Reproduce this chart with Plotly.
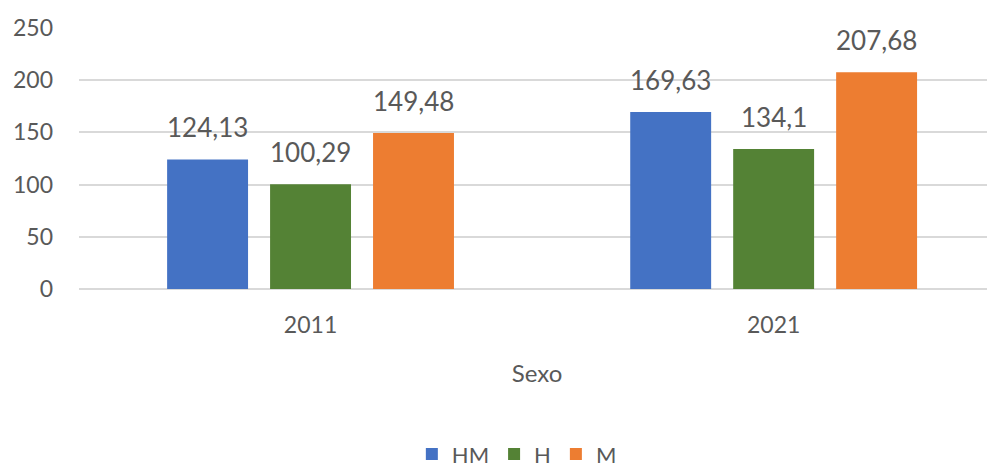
import plotly.graph_objects as go

categories = ["2011", "2021"]
series_names = ["HM", "H", "M"]
hm_values = [124.13, 169.63]
h_values = [100.29, 134.1]
m_values = [149.48, 207.68]
value_labels = [["124,13", "169,63"], ["100,29", "134,1"], ["149,48", "207,68"]]
colors = ["#4472C4", "#548235", "#ED7D31"]
y_ticks = [0, 50, 100, 150, 200, 250]

FONT = "Lato, Open Sans, sans-serif"
TXT = "#595959"

fig = go.Figure()
all_values = [hm_values, h_values, m_values]
for name, vals, col in zip(series_names, all_values, colors):
    fig.add_trace(go.Bar(x=[0, 1], y=vals, name=name, marker_color=col,
                         marker_line_width=0))

bargap = 0.333
bargroupgap = 0.214
slot = (1 - bargap) / 3
for si, vals in enumerate(all_values):
    for ci, v in enumerate(vals):
        fig.add_annotation(x=ci + (si - 1) * slot, y=v, xref="x", yref="y",
                           text=value_labels[si][ci], showarrow=False,
                           yanchor="bottom", yshift=14,
                           font=dict(family=FONT, size=26, color=TXT))

# page body has an 8px default margin; figure is sized to fit the 995x468 window
fig.update_layout(
    width=987, height=460,
    margin=dict(l=71, r=0, t=20, b=179, autoexpand=False),
    paper_bgcolor="white", plot_bgcolor="white",
    barmode="group", bargap=bargap, bargroupgap=bargroupgap,
    font=dict(family=FONT, size=23, color=TXT),
    showlegend=True,
    legend=dict(orientation="h", x=0.478, xanchor="center",
                yref="container", y=0.03, yanchor="middle",
                font=dict(family=FONT, size=22, color=TXT),
                itemwidth=30, traceorder="normal"),
    xaxis=dict(tickmode="array", tickvals=[0, 1], ticktext=categories,
               range=[-0.5, 1.478], showgrid=False, zeroline=False,
               showline=False, ticks="", ticklabelstandoff=20, automargin=False,
               title=dict(text="Sexo", standoff=28,
                          font=dict(family=FONT, size=24, color=TXT)),
               tickfont=dict(family=FONT, size=23, color=TXT)),
    yaxis=dict(range=[0, 250], tickvals=y_ticks, showgrid=True,
               gridcolor="#D9D9D9", gridwidth=2, zeroline=True,
               zerolinecolor="#D9D9D9", zerolinewidth=2, showline=False,
               ticks="", ticklabelstandoff=25, automargin=False,
               tickfont=dict(family=FONT, size=23, color=TXT)),
)

fig.write_html("out.html")
